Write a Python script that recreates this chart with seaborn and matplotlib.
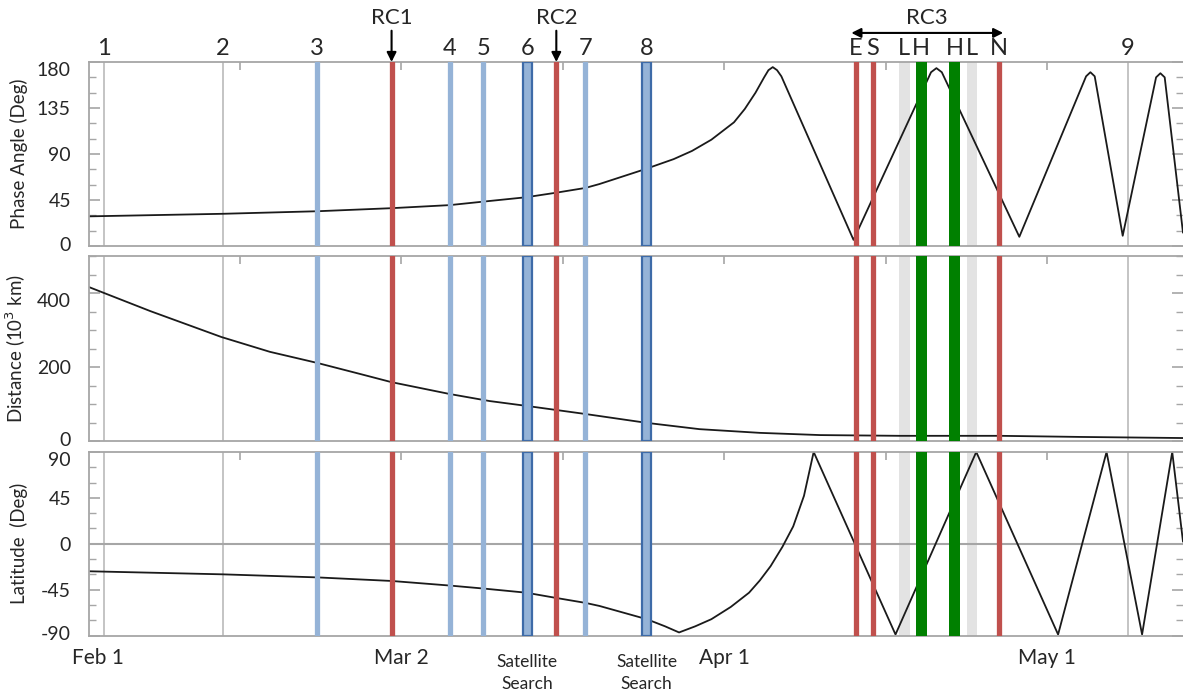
"""
Dawn approach to Ceres: phase angle, distance and latitude vs date
"""

import numpy as np
import pandas as pd
import matplotlib
matplotlib.use("Agg")
import matplotlib.pyplot as plt
from matplotlib.ticker import MultipleLocator
from matplotlib.transforms import ScaledTranslation
import seaborn as sns

# x values are days after Feb 1 (2015)
phase_day = [0, 12.4, 21.2, 28.1, 33.5, 36.7, 40.6, 43.3, 46.1, 47.4, 51.6, 54.3,
             56.0, 57.8, 59.9, 60.9, 61.9, 62.7, 63.1, 63.5, 63.9, 64.3, 71.0,
             78.2, 78.7, 79.2, 86.4, 92.6, 93.0, 93.4, 96.0, 99.1, 99.5, 99.9, 101.6]
phase_deg = [29, 31.5, 34, 37, 40, 43.5, 47.7, 52, 56.8, 60.6, 75, 85,
             93, 104, 121, 134, 150, 165, 172, 175, 172, 166, 6,
             170, 174, 170, 9, 166, 170, 166, 10, 165, 169, 165, 13]

dist_day = [0, 1.4, 5.7, 12.3, 16.8, 21.2, 25.2, 28.1, 33.5, 37.2, 40.6, 46.1,
            51.8, 56.7, 62.3, 67.9, 75.3, 84.6, 92.0, 101.6]
dist_km = [416, 400, 351, 281, 241, 211, 181, 159, 127, 108, 95, 73,
           49, 32, 22, 16, 14, 14, 11, 8]

lat_day = [0, 12.4, 21.2, 28.1, 33.5, 36.7, 40.6, 43.3, 46.1, 47.4, 51.8, 53.5,
           54.8, 56.3, 57.8, 59.6, 61.3, 62.3, 63.3, 64.4, 65.4, 66.4, 67.3,
           74.9, 82.4, 90.0, 94.5, 97.8, 100.6, 101.6]
lat_deg = [-27, -30, -33, -36.5, -41, -44, -48, -53, -58, -61, -74, -81,
           -87, -81, -74, -62, -48, -36, -22, -3, 17, 47, 90,
           -89, 90, -89, 90, -89, 90, 2]

# OpNav images 1-9
opnav_labels = ['1', '2', '3', '4', '5', '6', '7', '8', '9']
opnav_days = [1.4, 12.4, 21.2, 33.5, 36.6, 40.7, 46.1, 51.8, 96.5]
opnav_kind = ['grey', 'grey', 'blue', 'blue', 'blue', 'search', 'blue', 'search', 'grey']

# rotation characterisations
rc_labels = ['RC1', 'RC2']
rc_days = [28.1, 43.4]
rc3_labels = ['E', 'S', 'L', 'H', 'H', 'L', 'N']
rc3_days = [71.2, 72.8, 75.7, 77.3, 80.4, 82.0, 84.5]
rc3_kind = ['red', 'red', 'light', 'green', 'green', 'light', 'red']
rc3_span = [70.8, 84.9]

date_labels = ['Feb 1', 'Mar 2', 'Apr 1', 'May 1']
date_days = [0.85, 29, 59, 89]
tick_days = [14, 29, 44, 59, 74, 89]

RED = '#C0504D'
LBLUE = '#95B3D7'
DBLUE = '#3E6BA8'
GREEN = '#008000'
LGREY = '#E3E3E3'
GRID = '#BFBFBF'
SPINE = '#A6A6A6'

sns.set_style("white")
plt.rcParams['font.family'] = ['Lato', 'DejaVu Sans']
plt.rcParams['axes.unicode_minus'] = False

fig = plt.figure(figsize=(11.83, 6.94), dpi=100)
W, H = 1183, 694
left, right = 89 / W, 1.0
boxes = [(62, 246), (256, 441), (452, 635.5)]
axes = []
for top, bot in boxes:
    ax = fig.add_axes([left, 1 - bot / H, right - left, (bot - top) / H])
    axes.append(ax)
ax_ph, ax_d, ax_lat = axes

# data frames for seaborn
df_ph = pd.DataFrame({'day': phase_day, 'val': phase_deg})
df_d = pd.DataFrame({'day': dist_day, 'val': dist_km})
df_lat = pd.DataFrame({'day': lat_day, 'val': lat_deg})

for ax, df in zip(axes, [df_ph, df_d, df_lat]):
    # event markers
    for d, k in zip(opnav_days, opnav_kind):
        if k == 'grey':
            ax.axvline(d, color=GRID, lw=1.3, zorder=1)
        elif k == 'blue':
            ax.axvline(d, color=LBLUE, lw=3.8, zorder=3)
        else:
            ax.axvspan(d - 0.4, d + 0.4, facecolor=LBLUE, edgecolor=DBLUE,
                       lw=1.6, zorder=3)
    for d in rc_days:
        ax.axvline(d, color=RED, lw=3.8, zorder=3)
    for d, k in zip(rc3_days, rc3_kind):
        if k == 'red':
            ax.axvline(d, color=RED, lw=3.8, zorder=3)
        elif k == 'green':
            ax.axvspan(d - 0.5, d + 0.5, color=GREEN, lw=0, zorder=3)
        else:
            ax.axvspan(d - 0.5, d + 0.5, color=LGREY, lw=0, zorder=1)

    sns.lineplot(data=df, x='day', y='val', ax=ax, color='#1a1a1a', lw=1.3,
                 estimator=None, sort=False, zorder=2)

    ax.set_xlim(0, 101.6)
    ax.set_xlabel('')
    ax.set_xticks(tick_days)
    ax.tick_params(axis='x', which='both', direction='in', top=True, bottom=False,
                   labelbottom=False, length=6, color=SPINE, width=1.2)
    ax.tick_params(axis='y', which='major', direction='in', left=True, right=True,
                   length=8, width=1.2, color=SPINE, labelsize=14, pad=13)
    ax.tick_params(axis='y', which='minor', direction='in', left=True, right=True,
                   length=5, width=1.0, color=SPINE)
    for s in ax.spines.values():
        s.set_color(SPINE)
        s.set_linewidth(1.3)
    ax.spines['right'].set_visible(False)

ax_ph.set_ylim(0, 180)
ax_ph.set_yticks([0, 45, 90, 135, 180])
ax_ph.yaxis.set_minor_locator(MultipleLocator(15))
ax_ph.set_ylabel('Phase Angle (Deg)', fontsize=13.5)

ax_d.set_ylim(0, 500)
ax_d.set_yticks([0, 200, 400])
ax_d.yaxis.set_minor_locator(MultipleLocator(50))
ax_d.set_ylabel('Distance (10$^3$ km)', fontsize=13.5)

ax_lat.set_ylim(-90, 90)
ax_lat.set_yticks([-90, -45, 0, 45, 90])
ax_lat.yaxis.set_minor_locator(MultipleLocator(15))
ax_lat.axhline(0, color=SPINE, lw=1.5, zorder=1)
ax_lat.set_ylabel('Latitude  (Deg)', fontsize=13.5)

# nudge the end labels inward like the original, so panels do not collide
for ax in axes:
    ax.yaxis.set_label_coords(-0.056, 0.5)
    ticks = ax.yaxis.get_major_ticks()
    top_lab, bot_lab = ticks[-1].label1, ticks[0].label1
    top_lab.set_transform(top_lab.get_transform() +
                          ScaledTranslation(0, -7 / 100, fig.dpi_scale_trans))
    bot_lab.set_transform(bot_lab.get_transform() +
                          ScaledTranslation(0, 2 / 100, fig.dpi_scale_trans))

# annotations above top panel
tx = ax_ph.get_xaxis_transform()
for lab, d in zip(opnav_labels, opnav_days):
    ax_ph.text(d, 1.075, lab, transform=tx, ha='center', va='center', fontsize=17)
for lab, d in zip(rc_labels, rc_days):
    ax_ph.text(d, 1.24, lab, transform=tx, ha='center', va='center', fontsize=16)
    ax_ph.annotate('', xy=(d, 1.0), xytext=(d, 1.17), xycoords=tx, textcoords=tx,
                   arrowprops=dict(arrowstyle='-|>', color='black', lw=1.5,
                                   mutation_scale=14, shrinkA=0, shrinkB=0))
for lab, d in zip(rc3_labels, rc3_days):
    ax_ph.text(d, 1.075, lab, transform=tx, ha='center', va='center', fontsize=17)
ax_ph.annotate('', xy=(rc3_span[0], 1.158), xytext=(rc3_span[1], 1.158),
               xycoords=tx, textcoords=tx,
               arrowprops=dict(arrowstyle='<|-|>', color='black', lw=1.5,
                               mutation_scale=14, shrinkA=0, shrinkB=0))
ax_ph.text(sum(rc3_span) / 2, 1.24, 'RC3', transform=tx, ha='center',
           va='center', fontsize=16)

# date labels below bottom panel
bx = ax_lat.get_xaxis_transform()
for lab, d in zip(date_labels, date_days):
    ax_lat.text(d, -0.12, lab, transform=bx, ha='center', va='center', fontsize=15)
for d, k in zip(opnav_days, opnav_kind):
    if k == 'search':
        ax_lat.text(d, -0.205, 'Satellite\nSearch', transform=bx, ha='center',
                    va='center', fontsize=12.5, linespacing=1.45)

fig.savefig('out.png', dpi=100)
